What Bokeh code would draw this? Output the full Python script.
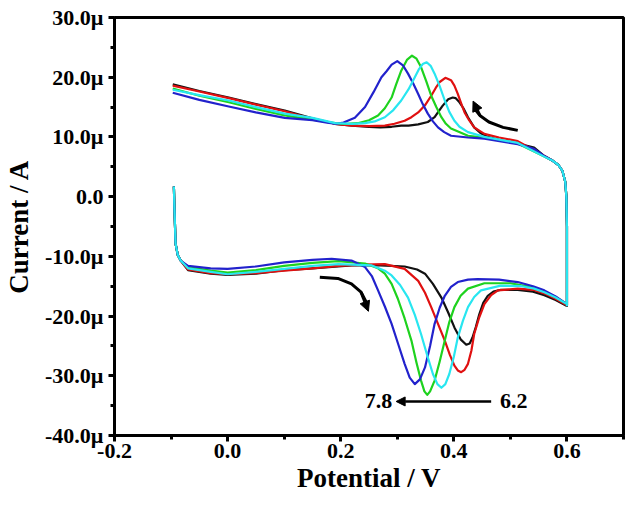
from bokeh.plotting import figure
from bokeh.models import FixedTicker, Arrow, NormalHead, Label, Range1d
from bokeh.embed import file_html
from bokeh.resources import INLINE

# ---------------- data (potential in V, current in µA) ----------------
start_x = [-0.095, -0.094, -0.092, -0.088, -0.083]
start_y = [1.7, -2.0, -7.9, -9.8, -10.7]
turn_x = [0.600, 0.600, 0.600, 0.599, 0.597, 0.592, 0.585, 0.575]
turn_y = [-18.2, -12.0, -5.0, 0.0, 2.5, 4.3, 5.3, 6.0]

black_bx = [-0.07, -0.03, 0.00, 0.05, 0.10, 0.15, 0.219, 0.27, 0.313, 0.335, 0.349, 0.363, 0.378, 0.390, 0.401, 0.412, 0.422, 0.428, 0.433, 0.439, 0.445, 0.452, 0.460, 0.470, 0.483, 0.513, 0.54, 0.56, 0.58, 0.60]
black_by = [-12.3, -12.9, -13.1, -12.9, -12.3, -12.0, -11.5, -11.5, -11.7, -12.2, -12.9, -14.6, -16.9, -19.4, -21.9, -23.9, -24.8, -24.6, -23.6, -21.8, -19.7, -17.8, -16.6, -15.9, -15.6, -15.6, -15.9, -16.5, -17.3, -18.3]
black_tx = [0.56, 0.542, 0.513, 0.501, 0.48, 0.460, 0.448, 0.436, 0.425, 0.417, 0.410, 0.403, 0.398, 0.390, 0.380, 0.366, 0.354, 0.337, 0.320, 0.307, 0.29, 0.27, 0.25, 0.22, 0.19, 0.15, 0.101, 0.05, 0.002, -0.05, -0.097]
black_ty = [6.8, 8.2, 8.9, 9.1, 9.5, 10.0, 10.6, 11.6, 13.3, 14.8, 15.8, 16.5, 16.6, 16.3, 15.2, 13.3, 12.5, 12.1, 11.9, 11.9, 11.7, 11.6, 11.7, 11.9, 12.2, 13.1, 14.4, 15.5, 16.6, 17.7, 18.8]

red_bx = [-0.07, -0.03, 0.00, 0.05, 0.10, 0.15, 0.196, 0.24, 0.278, 0.313, 0.337, 0.349, 0.360, 0.372, 0.384, 0.393, 0.401, 0.407, 0.413, 0.419, 0.425, 0.431, 0.436, 0.445, 0.454, 0.466, 0.478, 0.513, 0.54, 0.56, 0.58, 0.60]
red_by = [-12.2, -12.8, -13.0, -12.8, -12.4, -12.0, -11.6, -11.4, -11.3, -12.1, -14.1, -16.1, -18.5, -21.3, -24.1, -26.5, -28.3, -29.1, -29.4, -29.0, -28.0, -25.8, -23.0, -20.2, -18.0, -16.5, -15.7, -15.4, -15.6, -16.2, -17.1, -18.2]
red_tx = [0.56, 0.513, 0.480, 0.454, 0.436, 0.427, 0.419, 0.413, 0.407, 0.401, 0.395, 0.385, 0.375, 0.368, 0.360, 0.349, 0.337, 0.325, 0.313, 0.295, 0.278, 0.25, 0.22, 0.19, 0.15, 0.101, 0.05, 0.002, -0.05, -0.097]
red_ty = [6.8, 9.3, 9.9, 10.5, 11.6, 12.8, 14.1, 15.6, 17.2, 18.6, 19.5, 19.9, 19.2, 18.2, 16.9, 15.3, 14.1, 13.3, 12.7, 12.2, 11.9, 11.8, 11.9, 12.2, 13.0, 14.3, 15.4, 16.5, 17.6, 18.6]

green_bx = [-0.07, -0.03, 0.00, 0.05, 0.10, 0.15, 0.196, 0.243, 0.266, 0.278, 0.290, 0.301, 0.313, 0.325, 0.334, 0.342, 0.348, 0.353, 0.358, 0.366, 0.375, 0.384, 0.392, 0.401, 0.412, 0.425, 0.454, 0.50, 0.54, 0.56, 0.58, 0.60]
green_by = [-11.8, -12.4, -12.7, -12.3, -11.6, -11.1, -10.8, -11.2, -12.0, -12.9, -14.6, -17.1, -20.4, -24.1, -27.8, -30.8, -32.6, -33.2, -32.6, -30.8, -27.6, -24.1, -21.0, -18.5, -16.6, -15.4, -14.5, -14.5, -15.2, -15.9, -16.8, -18.0]
green_tx = [0.56, 0.513, 0.454, 0.425, 0.395, 0.386, 0.378, 0.369, 0.360, 0.351, 0.342, 0.334, 0.326, 0.317, 0.307, 0.298, 0.290, 0.278, 0.266, 0.25, 0.23, 0.21, 0.19, 0.15, 0.101, 0.05, 0.002, -0.05, -0.097]
green_ty = [6.7, 8.9, 9.9, 10.2, 11.4, 12.2, 13.3, 15.0, 16.9, 19.4, 21.7, 23.1, 23.6, 22.9, 21.1, 18.8, 16.6, 14.8, 13.6, 12.8, 12.3, 12.2, 12.3, 12.9, 13.6, 14.7, 15.8, 16.9, 18.1]

cyan_bx = [-0.07, -0.03, 0.00, 0.05, 0.10, 0.15, 0.196, 0.254, 0.278, 0.290, 0.305, 0.319, 0.331, 0.342, 0.353, 0.363, 0.371, 0.378, 0.385, 0.392, 0.400, 0.407, 0.416, 0.425, 0.436, 0.448, 0.483, 0.52, 0.542, 0.56, 0.58, 0.60]
cyan_by = [-12.0, -12.6, -13.0, -12.6, -12.1, -11.6, -11.3, -11.5, -12.4, -13.2, -14.8, -16.9, -19.8, -23.0, -26.6, -29.7, -31.4, -32.0, -31.4, -29.7, -26.8, -23.6, -20.8, -18.5, -16.8, -15.7, -14.9, -15.0, -15.4, -16.0, -16.9, -18.0]
cyan_tx = [0.56, 0.513, 0.454, 0.425, 0.410, 0.401, 0.392, 0.384, 0.375, 0.366, 0.359, 0.352, 0.345, 0.338, 0.331, 0.320, 0.307, 0.293, 0.278, 0.26, 0.243, 0.22, 0.19, 0.15, 0.101, 0.05, 0.002, -0.05, -0.097]
cyan_ty = [6.7, 9.0, 10.0, 10.8, 11.7, 12.7, 14.2, 16.1, 18.5, 20.6, 21.9, 22.5, 22.2, 21.3, 20.0, 18.0, 16.1, 14.5, 13.3, 12.6, 12.3, 12.2, 12.3, 13.2, 13.9, 15.0, 16.1, 17.0, 17.9]

blue_bx = [-0.07, -0.03, 0.00, 0.05, 0.10, 0.15, 0.184, 0.219, 0.243, 0.255, 0.266, 0.278, 0.290, 0.302, 0.313, 0.322, 0.331, 0.340, 0.349, 0.358, 0.366, 0.375, 0.384, 0.395, 0.407, 0.425, 0.442, 0.48, 0.513, 0.54, 0.56, 0.58, 0.60]
blue_by = [-11.6, -12.0, -12.1, -11.7, -11.0, -10.6, -10.4, -10.7, -11.8, -13.3, -15.7, -18.4, -21.3, -24.8, -28.0, -30.3, -31.4, -30.6, -28.6, -25.0, -21.3, -18.6, -16.6, -15.1, -14.3, -13.9, -13.8, -13.9, -14.3, -15.0, -15.7, -16.7, -18.0]
blue_tx = [0.56, 0.542, 0.513, 0.454, 0.425, 0.395, 0.383, 0.372, 0.363, 0.354, 0.345, 0.337, 0.328, 0.319, 0.310, 0.300, 0.290, 0.281, 0.272, 0.258, 0.243, 0.225, 0.205, 0.193, 0.176, 0.15, 0.101, 0.05, 0.002, -0.05, -0.097]
blue_ty = [6.8, 8.0, 8.8, 9.7, 9.9, 10.2, 10.8, 11.6, 12.6, 13.9, 15.5, 17.2, 19.0, 20.6, 22.0, 22.7, 22.1, 21.0, 20.0, 17.5, 15.0, 13.2, 12.4, 12.2, 12.4, 12.8, 13.2, 14.1, 15.1, 16.2, 17.4]

curves = [
    ("#111111", black_bx, black_by, black_tx, black_ty),
    ("#e01010", red_bx, red_by, red_tx, red_ty),
    ("#1ed21e", green_bx, green_by, green_tx, green_ty),
    ("#2222cc", blue_bx, blue_by, blue_tx, blue_ty),
    ("#28e6f0", cyan_bx, cyan_by, cyan_tx, cyan_ty),
]

x_ticks = [-0.2, 0.0, 0.2, 0.4, 0.6]
x_minor = [-0.1, 0.1, 0.3, 0.5, 0.7]
x_labels = ["-0.2", "0.0", "0.2", "0.4", "0.6"]
y_ticks = [-40, -30, -20, -10, 0, 10, 20, 30]
y_minor = [-35, -25, -15, -5, 5, 15, 25]
y_labels = ["-40.0µ", "-30.0µ", "-20.0µ", "-10.0µ", "0.0", "10.0µ", "20.0µ", "30.0µ"]

# annotation positions
scan_top_x = [0.513, 0.487, 0.462, 0.446, 0.436]
scan_top_y = [11.1, 11.6, 12.5, 13.6, 14.8]
scan_bot_x = [0.163, 0.195, 0.219, 0.236, 0.247]
scan_bot_y = [-13.5, -13.7, -14.6, -16.0, -18.0]
ph_arrow = (0.466, 0.298, -34.3)
ph_labels = [("7.8", 0.267), ("6.2", 0.506)]

FONT = "Liberation Serif"

p = figure(width=626, height=500, x_range=Range1d(-0.2, 0.7), y_range=Range1d(-40, 30),
           output_backend="svg", toolbar_location=None,
           min_border_left=112, min_border_right=3, min_border_top=17, min_border_bottom=65)
p.grid.visible = False
p.outline_line_color = "black"
p.outline_line_width = 3
p.background_fill_color = "white"
p.border_fill_color = "white"

for color, bx, by, tx, ty in curves:
    xs = start_x + bx + turn_x + tx
    ys = start_y + by + turn_y + ty
    p.line(xs, ys, line_color=color, line_width=2.2, line_join="round")

# scan-direction arrows
p.line(scan_top_x, scan_top_y, line_color="black", line_width=3)
p.add_layout(Arrow(end=NormalHead(size=10, fill_color="black", line_color="black"),
                   x_start=scan_top_x[-2], y_start=scan_top_y[-2], x_end=scan_top_x[-1] - 0.002,
                   y_end=scan_top_y[-1] + 1.2, line_width=3, line_color="black"))
p.line(scan_bot_x, scan_bot_y, line_color="black", line_width=3)
p.add_layout(Arrow(end=NormalHead(size=10, fill_color="black", line_color="black"),
                   x_start=scan_bot_x[-2], y_start=scan_bot_y[-2], x_end=scan_bot_x[-1] + 0.002,
                   y_end=scan_bot_y[-1] - 1.2, line_width=3, line_color="black"))

# pH arrow
p.add_layout(Arrow(end=NormalHead(size=9, fill_color="black", line_color="black"),
                   x_start=ph_arrow[0], y_start=ph_arrow[2], x_end=ph_arrow[1], y_end=ph_arrow[2],
                   line_width=2.5, line_color="black"))
for txt, xv in ph_labels:
    p.add_layout(Label(x=xv, y=ph_arrow[2], text=txt, text_align="center", text_baseline="middle",
                       text_font=FONT, text_font_style="bold", text_font_size="22px", text_color="black"))

xa = p.xaxis[0]
xa.ticker = FixedTicker(ticks=x_ticks, minor_ticks=x_minor)
xa.major_label_overrides = {t: l for t, l in zip(x_ticks, x_labels)}
ya = p.yaxis[0]
ya.ticker = FixedTicker(ticks=y_ticks, minor_ticks=y_minor)
ya.major_label_overrides = {t: l for t, l in zip(y_ticks, y_labels)}

for ax in (xa, ya):
    ax.axis_line_width = 3
    ax.axis_line_color = "black"
    ax.major_tick_line_width = 3
    ax.minor_tick_line_width = 3
    ax.major_tick_out = 6
    ax.major_tick_in = 0
    ax.minor_tick_out = 4
    ax.minor_tick_in = 0
    ax.major_label_text_font = FONT
    ax.major_label_text_font_style = "bold"
    ax.major_label_text_font_size = "22px"
    ax.major_label_text_color = "black"
    ax.axis_label_text_font = FONT
    ax.axis_label_text_font_style = "bold"
    ax.axis_label_text_font_size = "27px"
    ax.axis_label_text_color = "black"

xa.axis_label = "Potential / V"
ya.axis_label = "Current / A"
xa.major_label_standoff = 2
xa.axis_label_standoff = 2
ya.major_label_standoff = 5
ya.axis_label_standoff = 8

open("out.html", "w").write(file_html(p, INLINE))
